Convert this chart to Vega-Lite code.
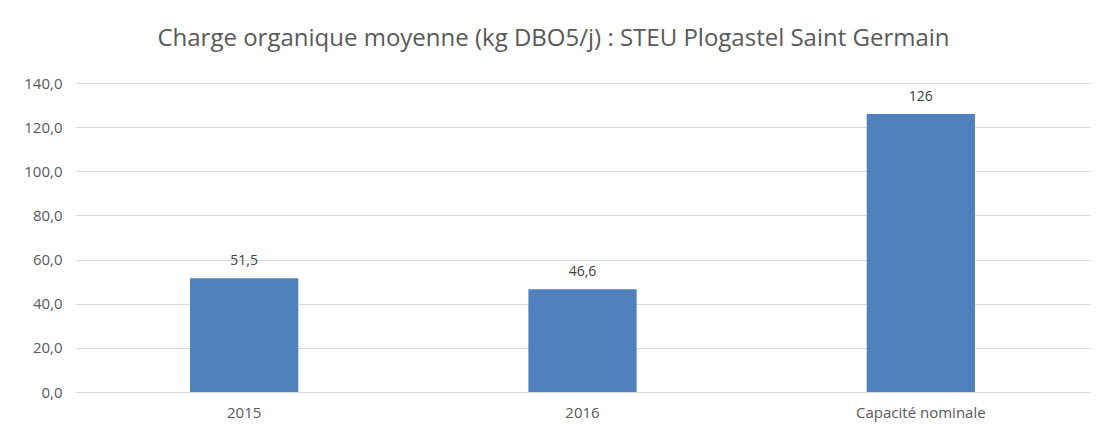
{
  "$schema": "https://vega.github.io/schema/vega-lite/v6.json",
  "width": 1015,
  "height": 309,
  "autosize": {"type": "none"},
  "padding": {"left": 75, "top": 83, "right": 11, "bottom": 42},
  "background": "white",
  "title": {
    "text": "Charge organique moyenne (kg DBO5/j) : STEU Plogastel Saint Germain",
    "font": "Open Sans",
    "fontSize": 24,
    "fontWeight": "normal",
    "color": "#595959",
    "anchor": "middle",
    "dx": -29,
    "offset": 25
  },
  "data": {
    "values": [
      {"categorie": "2015", "valeur": 51.5},
      {"categorie": "2016", "valeur": 46.6},
      {"categorie": "Capacité nominale", "valeur": 126}
    ]
  },
  "config": {
    "locale": {"number": {"decimal": ",", "thousands": " ", "grouping": [3], "currency": ["", " €"]}},
    "view": {"stroke": null},
    "font": "Open Sans"
  },
  "encoding": {
    "x": {
      "field": "categorie",
      "type": "nominal",
      "sort": null,
      "scale": {"paddingInner": 0.68, "paddingOuter": 0.34},
      "axis": {"title": null, "labelAngle": 0, "labelFontSize": 15, "labelColor": "#595959", "labelPadding": 13, "ticks": false, "domain": false, "grid": false, "labelFont": "Open Sans"}
    },
    "y": {
      "field": "valeur",
      "type": "quantitative",
      "scale": {"domain": [0, 140], "nice": false},
      "axis": {"title": null, "values": [0, 20, 40, 60, 80, 100, 120, 140], "format": ".1f", "labelFontSize": 15, "labelColor": "#595959", "labelPadding": 13, "ticks": false, "domain": false, "gridColor": "#d9d9d9", "gridWidth": 1, "labelFont": "Open Sans"}
    }
  },
  "layer": [
    {"mark": {"type": "bar", "color": "#4f81bd"}},
    {
      "mark": {"type": "text", "baseline": "bottom", "dy": -10, "fontSize": 14, "color": "#404040", "font": "Open Sans"},
      "encoding": {"text": {"field": "valeur", "type": "quantitative", "format": "~r"}}
    }
  ]
}
